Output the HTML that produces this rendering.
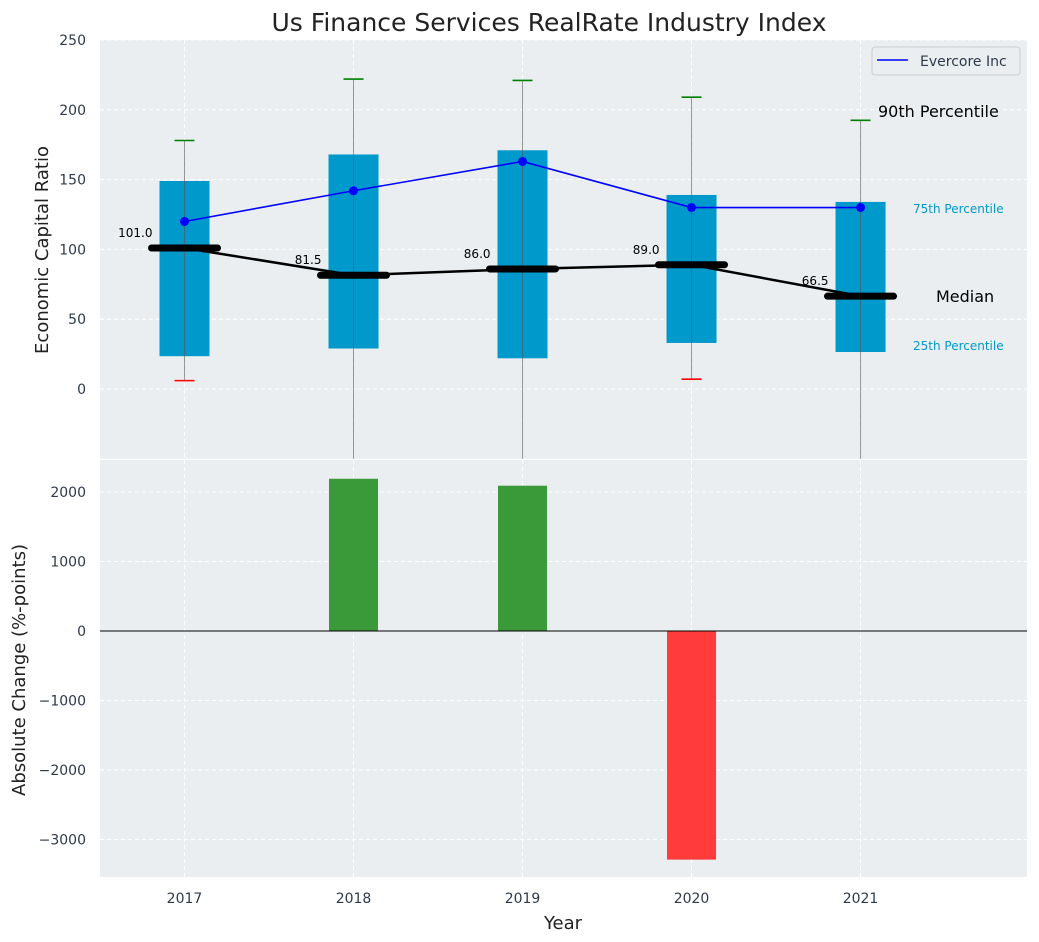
<!DOCTYPE html>
<html><head><meta charset="utf-8"><style>
body{margin:0;background:#fff;font-family:"Liberation Sans","DejaVu Sans",sans-serif;}
svg{display:block;font-family:"DejaVu Sans","Liberation Sans",sans-serif;}
</style></head><body>
<svg id="c" width="1039" height="942" xmlns="http://www.w3.org/2000/svg"></svg>
<script>
const years=[2017,2018,2019,2020,2021];
const p25=[23.5,29,22,33,26.5];
const p75=[149,168,171,139,134];
const p90=[178,222,221,209,192.5];
const p10=[6,-80,-80,7,-80];
const medians=[101,81.5,86,89,66.5];
const evercore=[120,142,163,130,130];
const changes=[0,2190,2090,-3290,0];
const topTicks=[0,50,100,150,200,250];
const botTicks=[-3000,-2000,-1000,0,1000,2000];

const NS="http://www.w3.org/2000/svg";
const svg=document.getElementById('c');
function el(t,a,p){const e=document.createElementNS(NS,t);for(const k in a)e.setAttribute(k,a[k]);(p||svg).appendChild(e);return e;}
const L=100,R=1027;
const x=v=>L+(v-2016.5)/(2021.985-2016.5)*(R-L);
const T0=40,T1=458.8;const yT=v=>T0+(250-v)/(300)*(T1-T0);
const B0=460,B1=877;const yB=v=>B0+(2460-v)/(2460+3540)*(B1-B0);

let e=el('rect',{x:L,y:T0,width:R-L,height:T1-T0,fill:'#eaeef0'});

e=el('rect',{x:L,y:B0,width:R-L,height:B1-B0,fill:'#eaeef0'});


years.forEach(yr=>{el('line',{x1:x(yr),x2:x(yr),y1:T0,y2:T1,stroke:'#fff','stroke-dasharray':'4,3','stroke-width':1});
el('line',{x1:x(yr),x2:x(yr),y1:B0,y2:B1,stroke:'#fff','stroke-dasharray':'4,3','stroke-width':1});});
topTicks.forEach(t=>{el('line',{x1:L,x2:R,y1:yT(t),y2:yT(t),stroke:'#fff','stroke-dasharray':'4,3'});
const tx=el('text',{x:86,y:yT(t)+5,'text-anchor':'end','font-size':14,fill:'#2e3a4a'});tx.textContent=t;
});
botTicks.forEach(t=>{el('line',{x1:L,x2:R,y1:yB(t),y2:yB(t),stroke:'#fff','stroke-dasharray':'4,3'});
const tx=el('text',{x:86,y:yB(t)+5,'text-anchor':'end','font-size':14,fill:'#2e3a4a'});tx.textContent=(t<0?'−'+(-t):t);
});

const cp=el('clipPath',{id:'ct'});el('rect',{x:L,y:T0,width:R-L,height:T1-T0},cp);
const g=el('g',{'clip-path':'url(#ct)'});
years.forEach((yr,i)=>{
 const b=el('rect',{x:x(yr)-25,y:yT(p75[i]),width:50,height:yT(p25[i])-yT(p75[i]),fill:'#0099cc'},g);
 
 el('line',{x1:x(yr),x2:x(yr),y1:yT(p90[i]),y2:yT(p10[i]),stroke:'#555','stroke-opacity':0.6,'stroke-width':1},g);
 el('line',{x1:x(yr)-10,x2:x(yr)+10,y1:yT(p90[i]),y2:yT(p90[i]),stroke:'green','stroke-width':1.6},g);
 if(p10[i]>-50)el('line',{x1:x(yr)-10,x2:x(yr)+10,y1:yT(p10[i]),y2:yT(p10[i]),stroke:'red','stroke-width':1.6},g);
});
el('polyline',{points:years.map((yr,i)=>x(yr)+','+yT(medians[i])).join(' '),fill:'none',stroke:'#000','stroke-width':2.5},g);
years.forEach((yr,i)=>{
 const m=el('line',{x1:x(yr)-33,x2:x(yr)+33,y1:yT(medians[i]),y2:yT(medians[i]),stroke:'#000','stroke-width':7,'stroke-linecap':'round'},g);
 
 const t=el('text',{x:x(yr)-32,y:yT(medians[i])-11,'text-anchor':'end','font-size':12,fill:'#000'},g);t.textContent=medians[i].toFixed(1);
 
});
el('polyline',{points:years.map((yr,i)=>x(yr)+','+yT(evercore[i])).join(' '),fill:'none',stroke:'blue','stroke-width':1.6},g);
years.forEach((yr,i)=>{const c=el('circle',{cx:x(yr),cy:yT(evercore[i]),r:4.5,fill:'blue'},g);
});

function txt(s,a,n){const t=el('text',a);t.textContent=s;return t;}
txt('90th Percentile',{x:878,y:117,'font-size':16,fill:'#000'},'p90-annotation');
txt('75th Percentile',{x:913,y:213,'font-size':12,fill:'#0099cc'},'p75-annotation');
txt('Median',{x:936,y:302,'font-size':16,fill:'#000'},'median-annotation');
txt('25th Percentile',{x:913,y:350,'font-size':12,fill:'#0099cc'},'p25-annotation');

const lg=el('g',{});
el('rect',{x:872,y:47,width:148,height:28,rx:3,fill:'#eaeef0',stroke:'#ccc'},lg);
el('line',{x1:877,x2:908,y1:60,y2:60,stroke:'blue','stroke-width':1.6},lg);
const lt=el('text',{x:920,y:66,'font-size':14,fill:'#2e3a4a'},lg);lt.textContent='Evercore Inc';

years.forEach((yr,i)=>{if(!changes[i])return;const v=changes[i];
 const b=el('rect',{x:x(yr)-24.5,y:Math.min(yB(v),yB(0)),width:49,height:Math.abs(yB(v)-yB(0)),fill:v>0?'#3a9a3a':'#ff3b3b'});
 });
el('line',{x1:L,x2:R,y1:yB(0),y2:yB(0),stroke:'#000','stroke-width':1});

years.forEach(yr=>txt(yr,{x:x(yr),y:903,'text-anchor':'middle','font-size':14,fill:'#2e3a4a'},'x-tick-label'));
txt('Year',{x:563,y:929,'text-anchor':'middle','font-size':18,fill:'#222'},'x-axis-title');
txt('Economic Capital Ratio',{x:0,y:0,'text-anchor':'middle','font-size':18,fill:'#222',transform:'translate(48,250) rotate(-90)'},'y-axis-title');
txt('Absolute Change (%-points)',{x:0,y:0,'text-anchor':'middle','font-size':18,fill:'#222',transform:'translate(25,670) rotate(-90)'},'y2-axis-title');
txt('Us Finance Services RealRate Industry Index',{x:549,y:31,'text-anchor':'middle','font-size':25,fill:'#222'},'chart-title');
</script>
</body></html>
